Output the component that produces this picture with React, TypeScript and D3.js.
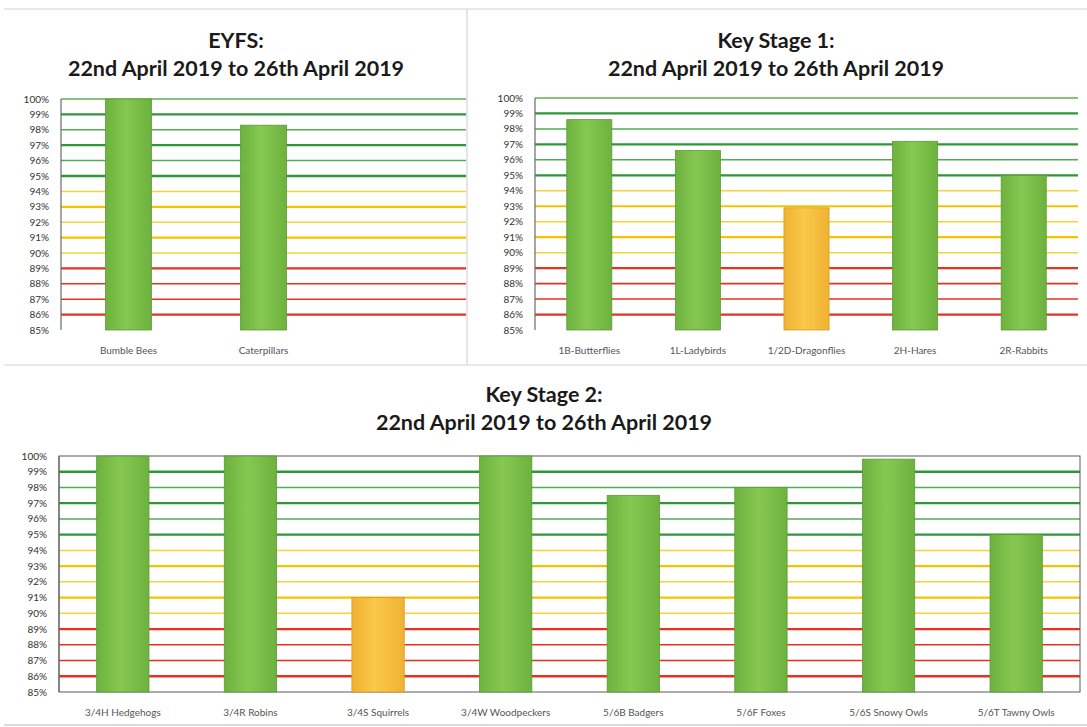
import React from 'react';
import * as d3 from 'd3';

// attendance per class, in percent
const eyfsClasses = ['Bumble Bees', 'Caterpillars', ''];
const eyfsValues = [100, 98.3, null];

const ks1Classes = ['1B-Butterflies', '1L-Ladybirds', '1/2D-Dragonflies', '2H-Hares', '2R-Rabbits'];
const ks1Values = [98.6, 96.6, 92.9, 97.2, 95.0];

const ks2Classes = [
  '3/4H Hedgehogs', '3/4R Robins', '3/4S Squirrels', '3/4W Woodpeckers',
  '5/6B Badgers', '5/6F Foxes', '5/6S Snowy Owls', '5/6T Tawny Owls',
];
const ks2Values = [100, 100, 91.0, 100, 97.5, 98.0, 99.8, 95.0];

const pctTicks = [100, 99, 98, 97, 96, 95, 94, 93, 92, 91, 90, 89, 88, 87, 86, 85];
const dateLine = '22nd April 2019 to 26th April 2019';

const W = 1087;
const H = 727;
const FONT = 'Lato, "Open Sans", sans-serif';

// colour band of each gridline (100 is the plot edge)
const gridStyle = (v) => {
  if (v >= 95) {
    const bold = v === 99 || v === 97 || v === 95;
    return { stroke: bold ? '#2f9639' : '#4fae55', width: bold ? 2.3 : 1.5 };
  }
  if (v >= 90) {
    const bold = v === 93 || v === 91;
    return { stroke: bold ? '#f3c400' : '#f5d33a', width: bold ? 2.2 : 1.5 };
  }
  const bold = v === 86 || v === 89;
  return { stroke: '#e8321e', width: bold ? 2.3 : 1.6 };
};

const Panel = ({ id, titleTop, title, titleX, titleY, classes, values, left, right, top, bottom, barFrac, border }) => {
  const x = d3.scaleBand().domain(classes.map((c, i) => i + '')).range([left, right]).padding(0);
  const y = d3.scaleLinear().domain([85, 100]).range([bottom, top]);
  const bw = x.bandwidth() * barFrac;

  return (
    <g>
      <text x={titleX} y={titleY} textAnchor="middle" fontFamily={FONT} fontWeight="bold" fontSize={21.5} fill="#1a1a1a">
        {titleTop}
      </text>
      <text x={titleX} y={titleY + 28} textAnchor="middle" fontFamily={FONT} fontWeight="bold" fontSize={21.5} fill="#1a1a1a">
        {title}
      </text>

      {pctTicks.filter(t => t < 100 && t > 85).map(t => {
        const s = gridStyle(t);
        return <line key={t} x1={left} x2={right} y1={y(t)} y2={y(t)} stroke={s.stroke} strokeWidth={s.width} />;
      })}
      {border ? (
        <rect x={left} y={top} width={right - left} height={bottom - top} fill="none" stroke="#5a5a5a" strokeWidth={1} />
      ) : (
        <line x1={left} x2={right} y1={top} y2={top} stroke="#5fb04a" strokeWidth={1.4} />
      )}

      {values.map((v, i) => {
        if (v == null) return null;
        const cx = x(i + '') + x.bandwidth() / 2;
        const fill = v >= 95 ? `url(#green-${id})` : `url(#amber-${id})`;
        return (
          <rect key={i} x={cx - bw / 2} y={y(v)} width={bw} height={y(85) - y(v)}
            fill={fill} stroke={v >= 95 ? '#5c9c34' : '#d99a26'} strokeWidth={0.8} />
        );
      })}

      <line x1={left} x2={left} y1={top} y2={bottom} stroke="#6a6a6a" strokeWidth={1.2} />

      {pctTicks.map(t => (
        <text key={t} x={left - 12} y={y(t)} dy="0.35em" textAnchor="end" fontFamily={FONT} fontSize={10} fill="#333">
          {t}%
        </text>
      ))}

      {classes.map((c, i) => (
        <text key={i} x={x(i + '') + x.bandwidth() / 2} y={bottom + 24} textAnchor="middle" fontFamily={FONT} fontSize={10} fill="#555">
          {c}
        </text>
      ))}
    </g>
  );
};

const Grad = ({ id, edge, mid }) => (
  <linearGradient id={id} x1="0" x2="1" y1="0" y2="0">
    <stop offset="0%" stopColor={edge} />
    <stop offset="45%" stopColor={mid} />
    <stop offset="100%" stopColor={edge} />
  </linearGradient>
);

export default function App() {
  const ids = ['a', 'b', 'c'];
  return (
    <svg width={W} height={H} style={{ position: 'absolute', left: 0, top: 0, background: '#fff' }}>
      <defs>
        {ids.map(k => (
          <React.Fragment key={k}>
            <Grad id={`green-${k}`} edge="#6db23f" mid="#86c851" />
            <Grad id={`amber-${k}`} edge="#f0b232" mid="#fac84a" />
          </React.Fragment>
        ))}
      </defs>

      {/* panel frames */}
      <line x1={4} x2={W} y1={9} y2={9} stroke="#d4d4d4" strokeWidth={1.2} />
      <line x1={467} x2={467} y1={9} y2={365} stroke="#d4d4d4" strokeWidth={1.2} />
      <line x1={4} x2={W} y1={365} y2={365} stroke="#d4d4d4" strokeWidth={1.2} />
      <line x1={4} x2={W} y1={725} y2={725} stroke="#cfcfcf" strokeWidth={1.5} />

      <Panel id="a" titleTop="EYFS:" title={dateLine} titleX={236} titleY={48}
        classes={eyfsClasses} values={eyfsValues}
        left={61} right={466} top={99} bottom={330} barFrac={0.34} />
      <Panel id="b" titleTop="Key Stage 1:" title={dateLine} titleX={776} titleY={48}
        classes={ks1Classes} values={ks1Values}
        left={535} right={1078} top={98} bottom={330} barFrac={0.415} />
      <Panel id="c" titleTop="Key Stage 2:" title={dateLine} titleX={544} titleY={402}
        classes={ks2Classes} values={ks2Values}
        left={59} right={1080} top={456} bottom={692} barFrac={0.41} border />
    </svg>
  );
}
